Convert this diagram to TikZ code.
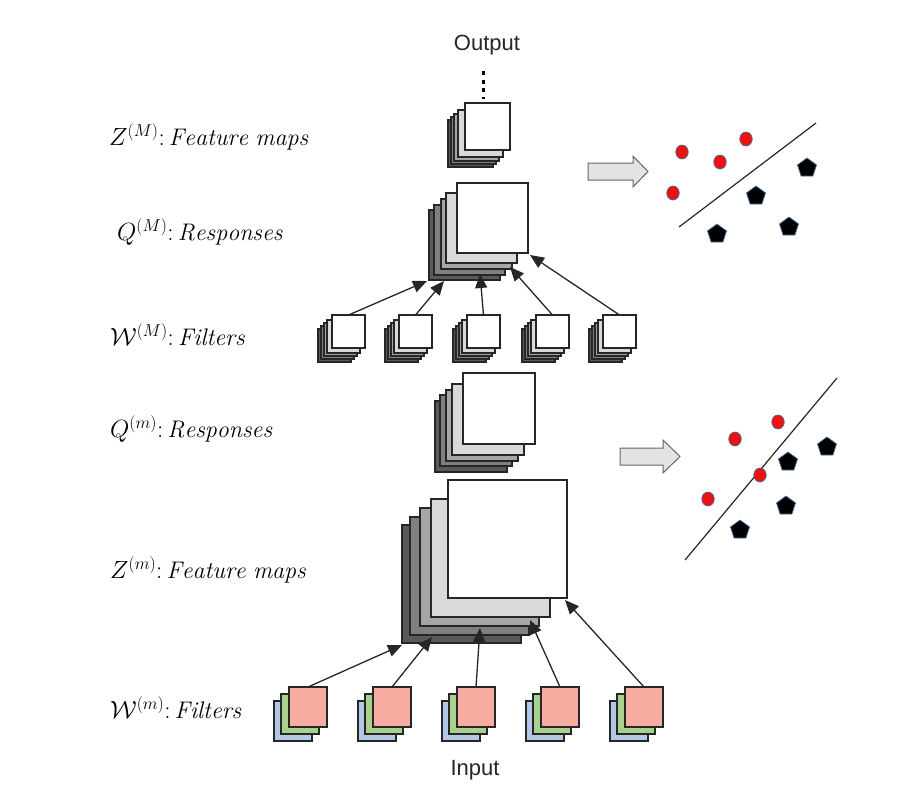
\documentclass[tikz,border=0pt]{standalone}
\usepackage{fontspec}
\newfontfamily\arialfont{Liberation Sans}
\usetikzlibrary{shapes.geometric, arrows.meta}

\definecolor{lg}{HTML}{D9D9D9}
\definecolor{mg}{HTML}{A6A6A6}
\definecolor{dg}{HTML}{808080}
\definecolor{kg}{HTML}{595959}
\definecolor{fred}{HTML}{F8ABA0}
\definecolor{fgreen}{HTML}{A9D18E}
\definecolor{fblue}{HTML}{B4C7E7}
\definecolor{dotred}{HTML}{EE1111}
\definecolor{edgeblue}{HTML}{41719C}
\definecolor{barrow}{HTML}{E3E3E3}

% name, cx, cy, w, h, layers dx/dy/color (back first)
\newcommand\gstack[6]{%
  \foreach \dx/\dy/\cc [count=\k] in {#6} {
    \node[layerbox, fill=\cc, minimum width=#4pt, minimum height=#5pt] (#1-\k) at ({#2+\dx},{#3+\dy}) {};
  }
}

\begin{document}
\begin{tikzpicture}[x=1pt, y=-1pt,
  layerbox/.style={draw=black!85, line width=1.4pt, inner sep=0pt, outer sep=0pt},
  conn/.style={draw=black!85, line width=1.3pt, -{Triangle[length=14pt,width=12pt]}},
  lab/.style={anchor=west, inner sep=0pt, font=\fontsize{24}{28}\selectfont},
  io/.style={font=\arialfont\fontsize{22}{26}\selectfont, text=black!85, inner sep=0pt},
  reddot/.style={ellipse, fill=dotred, draw=edgeblue, line width=0.7pt, minimum width=12.5pt, minimum height=14pt, inner sep=0pt},
  pent/.style={regular polygon, regular polygon sides=5, fill=black, draw=edgeblue, line width=0.7pt, minimum size=20pt, inner sep=0pt},
  sepline/.style={draw=black!85, line width=1.2pt},
  blockarrow/.style={draw=black!60, fill=barrow, line width=1pt, line join=miter}
]
\useasboundingbox (0,0) rectangle (922,793);

% ---------- labels ----------
\node[lab] (lzM) at (109,137) {$Z^{(M)}{:}\,\mathit{Feature\ maps}$};
\node[lab] (lqM) at (117,232) {$Q^{(M)}{:}\,\mathit{Responses}$};
\node[lab] (lwM) at (110,335) {$\mathcal{W}^{(M)}{:}\,\mathit{Filters}$};
\node[lab] (lqm) at (110,429) {$Q^{(m)}{:}\,\mathit{Responses}$};
\node[lab] (lzm) at (110,570) {$Z^{(m)}{:}\,\mathit{Feature\ maps}$};
\node[lab] (lwm) at (110,708) {$\mathcal{W}^{(m)}{:}\,\mathit{Filters}$};

\node[io] (out) at (487,45) {Output};
\node[io] (in) at (475,770) {Input};

% ---------- Z^(M) stack ----------
\gstack{zM}{487.5}{126.5}{45}{47}{-17/17/kg, -14/14/dg, -11/11/mg, -7/7/lg}
\node[layerbox, fill=white, minimum width=45pt, minimum height=47pt] (zM) at (487.5,126.5) {};
\coordinate (dotA) at (483,71);
\coordinate (dotB) at (483,99);
\draw[line width=3pt, dash pattern=on 4pt off 4.5pt] (dotA) -- (dotB);

% ---------- Q^(M) stack ----------
\gstack{qM}{492.5}{218}{71}{70}{-28/27/kg, -23/22/dg, -16/16/mg, -11/10/lg}
\node[layerbox, fill=white, minimum width=71pt, minimum height=70pt] (qM) at (492.5,218) {};

% ---------- W^(M) filters ----------
\foreach \fx [count=\i] in {348.5, 415.5, 483.5, 552.5, 619.5} {
  \gstack{fM\i}{\fx}{331.5}{33}{33}{-14/14/kg, -11/11/dg, -8/8/mg, -5/5/lg}
  \node[layerbox, fill=white, minimum width=33pt, minimum height=33pt] (fM\i) at (\fx,331.5) {};
}
\coordinate (tM1) at (427,281);
\coordinate (tM2) at (444,281);
\coordinate (tM3) at (480,274);
\coordinate (tM4) at (510,267);
\coordinate (tM5) at (530,255);
\foreach \i in {1,...,5} { \draw[conn] (fM\i.north) -- (tM\i); }

% ---------- Q^(m) stack ----------
\gstack{qm}{499}{408.5}{72}{71}{-28/28/kg, -23/22/dg, -17/17/mg, -11/11/lg}
\node[layerbox, fill=white, minimum width=72pt, minimum height=71pt] (qm) at (499,408.5) {};

% ---------- Z^(m) stack ----------
\gstack{zm}{507.5}{539}{119}{118}{-46/45/kg, -38/37/dg, -28/28/mg, -17/19/lg}
\node[layerbox, fill=white, minimum width=119pt, minimum height=118pt] (zm) at (507.5,539) {};

% ---------- W^(m) filters ----------
\foreach \fx [count=\i] in {308, 392, 476, 560, 644} {
  \gstack{fm\i}{\fx}{707}{38}{40}{-15/14/fblue, -8/7/fgreen}
  \node[layerbox, fill=fred, minimum width=38pt, minimum height=40pt] (fm\i) at (\fx,707) {};
}
\coordinate (tm1) at (402,645);
\coordinate (tm2) at (432,637);
\coordinate (tm3) at (480,628);
\coordinate (tm4) at (530,620);
\coordinate (tm5) at (565,600);
\foreach \i in {1,...,5} { \draw[conn] (fm\i.north) -- (tm\i); }

% ---------- block arrows ----------
\draw[blockarrow] (588,163) -- (633,163) -- (633,156) -- (648,171.5) -- (633,187) -- (633,180) -- (588,180) -- cycle;
\draw[blockarrow] (620,448) -- (663,448) -- (663,440) -- (680,456.5) -- (663,473) -- (663,465) -- (620,465) -- cycle;

% ---------- scatter 1 ----------
\coordinate (s1a) at (679,227);
\coordinate (s1b) at (816,123);
\draw[sepline] (s1a) -- (s1b);
\node[reddot] (r11) at (682,152) {};
\node[reddot] (r12) at (720,162) {};
\node[reddot] (r13) at (746,139) {};
\node[reddot] (r14) at (673,193) {};
\node[pent] (p11) at (807,168) {};
\node[pent] (p12) at (756,196) {};
\node[pent] (p13) at (717,234) {};
\node[pent] (p14) at (789,227) {};

% ---------- scatter 2 ----------
\coordinate (s2a) at (685,560);
\coordinate (s2b) at (837,378);
\draw[sepline] (s2a) -- (s2b);
\node[reddot] (r21) at (778,422) {};
\node[reddot] (r22) at (735,439) {};
\node[reddot] (r23) at (760,475) {};
\node[reddot] (r24) at (708,499) {};
\node[pent] (p21) at (827,447) {};
\node[pent] (p22) at (788,462) {};
\node[pent] (p23) at (786,506) {};
\node[pent] (p24) at (740,530) {};
\end{tikzpicture}
\end{document}
